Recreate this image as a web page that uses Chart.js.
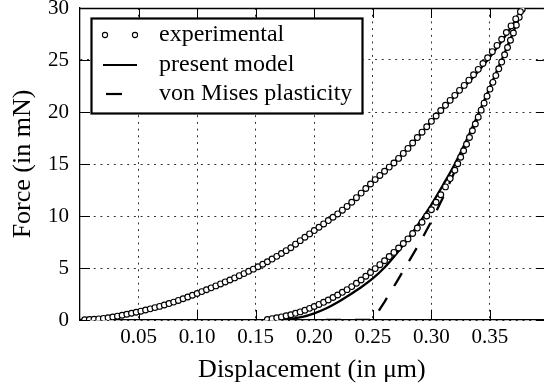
<!DOCTYPE html>
<html>
<head>
<meta charset="utf-8">
<script src="https://cdn.jsdelivr.net/npm/chart.js@4.4.1/dist/chart.umd.min.js"></script>
<style>
  html, body { margin: 0; padding: 0; background: #fff; }
  #wrap { width: 549px; height: 390px; }
</style>
</head>
<body>
<div id="wrap"><canvas id="forceChart" width="549" height="390"></canvas></div>
<script>
// experimental, loading branch (displacement in um, force in mN)
const expLoadDisp = [0.004,0.008,0.012,0.016,0.020,0.024,0.028,0.032,0.036,0.040,
  0.044,0.048,0.052,0.056,0.060,0.064,0.068,0.072,0.076,0.080,
  0.084,0.088,0.092,0.096,0.100,0.104,0.108,0.112,0.116,0.120,
  0.124,0.128,0.132,0.136,0.140,0.144,0.148,0.152,0.156,0.160,
  0.164,0.168,0.172,0.176,0.180,0.184,0.188,0.192,0.196,0.200,
  0.204,0.208,0.212,0.216,0.220,0.224,0.228,0.232,0.236,0.240,
  0.244,0.248,0.252,0.256,0.260,0.264,0.268,0.272,0.276,0.280,
  0.284,0.288,0.292,0.296,0.300,0.304,0.308,0.312,0.316,0.320,
  0.324,0.328,0.332,0.336,0.340,0.344,0.348,0.352,0.356,0.360,
  0.364,0.368,0.372,0.376];
const expLoadForce = [0.02,0.04,0.07,0.11,0.15,0.22,0.29,0.37,0.46,0.55,
  0.65,0.75,0.85,0.96,1.07,1.19,1.31,1.44,1.58,1.72,
  1.88,2.04,2.21,2.38,2.55,2.73,2.91,3.09,3.28,3.47,
  3.66,3.85,4.05,4.26,4.46,4.68,4.89,5.12,5.36,5.60,
  5.86,6.12,6.39,6.67,6.95,7.29,7.63,7.96,8.28,8.60,
  8.92,9.24,9.56,9.88,10.20,10.56,10.92,11.32,11.76,12.20,
  12.64,13.08,13.50,13.90,14.30,14.70,15.10,15.54,16.02,16.50,
  17.02,17.54,18.06,18.58,19.10,19.62,20.14,20.64,21.12,21.60,
  22.08,22.56,23.06,23.58,24.10,24.66,25.22,25.80,26.40,27.00,
  27.64,28.28,28.95,29.65];

// experimental, unloading branch
const expUnloadDisp = [0.160,0.164,0.168,0.172,0.176,0.180,0.184,0.188,0.192,0.196,
  0.200,0.204,0.208,0.212,0.216,0.220,0.224,0.228,0.232,0.236,
  0.240,0.244,0.248,0.252,0.256,0.260,0.264,0.268,0.272,0.276,
  0.280,0.284,0.288,0.292,0.296,0.300,0.304,0.308,0.312,0.316,
  0.320,0.3225,0.325,0.3275,0.330,0.3325,0.335,0.3375,0.340,0.3425,
  0.345,0.3475,0.350,0.3525,0.355,0.3575,0.360,0.3625,0.365,0.3675,
  0.370,0.3725,0.375,0.3775];
const expUnloadForce = [0.05,0.13,0.21,0.30,0.40,0.50,0.64,0.78,0.94,1.12,
  1.30,1.50,1.70,1.92,2.16,2.40,2.66,2.92,3.21,3.53,
  3.85,4.21,4.57,4.94,5.32,5.70,6.10,6.50,6.92,7.36,
  7.80,8.32,8.84,9.40,10.00,10.60,11.32,12.04,12.80,13.60,
  14.40,15.02,15.65,16.27,16.90,17.55,18.20,18.85,19.50,20.18,
  20.85,21.52,22.20,22.85,23.50,24.15,24.80,25.50,26.20,26.90,
  27.60,28.35,29.10,29.85];

// present model
const modelLoadDisp = [0,0.02,0.04,0.06,0.08,0.10,0.12,0.14,0.16,0.18,0.20,0.22,0.24,0.26,0.28,0.30,0.32,0.34,0.36,0.37,0.378];
const modelLoadForce = [0,0.15,0.55,1.07,1.72,2.55,3.47,4.46,5.6,6.95,8.6,10.2,12.2,14.3,16.5,19.1,21.5,23.9,26.8,28.5,30];
const modelUnloadDisp = [0.17,0.18,0.19,0.20,0.21,0.22,0.23,0.24,0.25,0.26,0.27,0.28,0.29,0.30,0.31,0.32,0.33,0.34,0.35,0.36,0.37,0.378];
const modelUnloadForce = [0,0.12,0.3,0.64,1.1,1.7,2.4,3.15,4.0,5.05,6.35,7.8,9.4,11.1,13.0,15.0,17.3,19.8,22.4,25.0,27.7,30];

// von Mises plasticity (unloading)
const misesDisp = [0.21,0.25,0.26,0.27,0.28,0.29,0.30,0.31,0.32,0.33,0.34,0.35,0.36,0.37,0.378];
const misesForce = [0,0,1.75,3.6,5.5,7.4,9.5,11.8,14.3,16.9,19.6,22.3,25.0,27.7,30];

const xTickValues = [0.05,0.10,0.15,0.20,0.25,0.30,0.35];
const yTickValues = [0,5,10,15,20,25,30];
const legendLabels = ['experimental','present model','von Mises plasticity'];

const pts = (xs, ys) => xs.map((v, i) => ({x: v, y: ys[i]}));
const serif = "'Liberation Serif', 'Times New Roman', serif";
Chart.defaults.font.family = serif;
Chart.defaults.color = '#000';

const circleStyle = {
  showLine: false, pointRadius: 2.9, pointBorderWidth: 1.15,
  pointBackgroundColor: '#fff', pointBorderColor: '#000'
};

// inward ticks and top frame line
const frameTicks = {
  id: 'frameTicks',
  beforeDatasetsDraw(chart) {
    const {ctx, chartArea: a, scales: {x, y}} = chart;
    ctx.save();
    ctx.strokeStyle = '#000';
    ctx.lineWidth = 1;
    ctx.beginPath();
    xTickValues.forEach(v => {
      const px = Math.round(x.getPixelForValue(v)) + 0.5;
      ctx.moveTo(px, a.bottom); ctx.lineTo(px, a.bottom - 10);
      ctx.moveTo(px, a.top); ctx.lineTo(px, a.top + 10);
    });
    yTickValues.forEach(v => {
      const py = Math.round(y.getPixelForValue(v)) + 0.5;
      ctx.moveTo(a.left, py); ctx.lineTo(a.left + 10, py);
      ctx.moveTo(a.right, py); ctx.lineTo(a.right - 8, py);
    });
    ctx.stroke();
    ctx.lineWidth = 1.3;
    ctx.beginPath();
    ctx.moveTo(a.left, a.top + 0.5); ctx.lineTo(a.right, a.top + 0.5);
    ctx.stroke();
    ctx.restore();
  }
};

// boxed legend in the upper left corner
const boxLegend = {
  id: 'boxLegend',
  afterDraw(chart) {
    const ctx = chart.ctx;
    const bx = 91.5, by = 18.5, bw = 271, bh = 95;
    const rows = [35, 65, 94];
    ctx.save();
    ctx.fillStyle = '#fff';
    ctx.fillRect(bx, by, bw, bh);
    ctx.strokeStyle = '#000';
    ctx.lineWidth = 2.2;
    ctx.strokeRect(bx, by, bw, bh);
    // experimental: two circles
    ctx.lineWidth = 1.1;
    [105, 135].forEach(cx => {
      ctx.beginPath(); ctx.arc(cx, rows[0], 2.6, 0, Math.PI * 2); ctx.stroke();
    });
    // present model: solid line
    ctx.lineWidth = 2.2;
    ctx.beginPath(); ctx.moveTo(103, rows[1]); ctx.lineTo(137, rows[1]); ctx.stroke();
    // von Mises: first dash only
    ctx.beginPath(); ctx.moveTo(106, rows[2]); ctx.lineTo(122, rows[2]); ctx.stroke();
    ctx.fillStyle = '#000';
    ctx.font = '24px ' + serif;
    ctx.textBaseline = 'middle';
    legendLabels.forEach((t, i) => ctx.fillText(t, 159, rows[i]));
    ctx.restore();
  }
};

new Chart(document.getElementById('forceChart'), {
  type: 'scatter',
  data: {
    datasets: [
      Object.assign({label: 'experimental', data: pts(expLoadDisp, expLoadForce)}, circleStyle),
      Object.assign({label: 'experimental', data: pts(expUnloadDisp, expUnloadForce)}, circleStyle),
      {label: 'present model', data: pts(modelLoadDisp, modelLoadForce), showLine: true,
       borderColor: '#000', borderWidth: 2.3, pointRadius: 0, cubicInterpolationMode: 'monotone'},
      {label: 'present model', data: pts(modelUnloadDisp, modelUnloadForce), showLine: true,
       borderColor: '#000', borderWidth: 2.3, pointRadius: 0, cubicInterpolationMode: 'monotone'},
      {label: 'von Mises plasticity', data: pts(misesDisp, misesForce), showLine: true,
       borderColor: '#000', borderWidth: 2.3, borderDash: [15, 14], pointRadius: 0, tension: 0}
    ]
  },
  options: {
    responsive: false,
    animation: false,
    layout: { padding: {top: 8, right: 0, bottom: 0, left: 0} },
    plugins: { legend: { display: false }, tooltip: { enabled: false } },
    scales: {
      x: {
        type: 'linear', min: 0, max: 0.396,
        afterBuildTicks: s => { s.ticks = xTickValues.map(v => ({value: v})); },
        afterFit: s => { s.height = 70; s.paddingLeft = 0; s.paddingRight = 0; },
        ticks: { padding: 5, font: {size: 21}, callback: v => v.toFixed(2) },
        grid: { drawTicks: false, color: 'rgba(0,0,0,0.8)', lineWidth: 1 },
        border: { display: true, color: '#000', width: 1.3, dash: [2, 4.7] },
        title: { display: true, text: 'Displacement (in \u03bcm)', font: {size: 26}, padding: {top: 4, bottom: 4} }
      },
      y: {
        min: 0, max: 30,
        afterBuildTicks: s => { s.ticks = yTickValues.map(v => ({value: v})); },
        afterFit: s => { s.width = 80; s.paddingTop = 0; s.paddingBottom = 0; },
        ticks: { padding: 11, font: {size: 21} },
        grid: { drawTicks: false, color: 'rgba(0,0,0,0.8)', lineWidth: 1 },
        border: { display: true, color: '#000', width: 1.3, dash: [2, 4.7] },
        title: { display: true, text: 'Force (in mN)', font: {size: 26}, padding: {top: 8, bottom: 4} }
      }
    }
  },
  plugins: [frameTicks, boxLegend]
});
</script>
</body>
</html>
